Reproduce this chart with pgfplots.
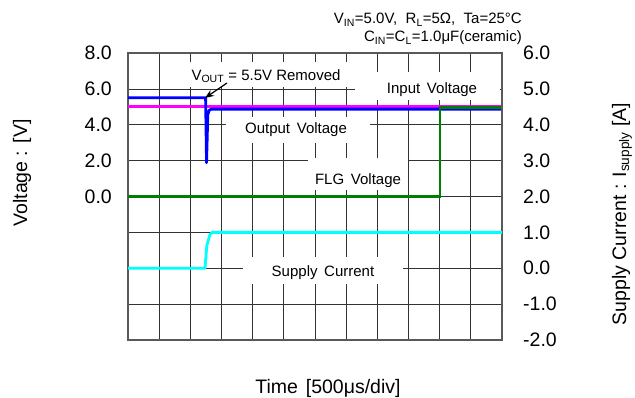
\documentclass[border=0pt]{standalone}
\usepackage{pgfplots}
\pgfplotsset{compat=1.18}
\usepackage{fontspec}
\setmainfont{Liberation Sans}
\usetikzlibrary{arrows.meta}
\definecolor{cCyan}{RGB}{0,255,255}
\definecolor{cMag}{RGB}{255,0,255}
\definecolor{cBlue}{RGB}{0,0,255}
\definecolor{cGreen}{RGB}{0,128,0}
\newcommand{\tickfont}{\fontsize{19.5bp}{22bp}\selectfont}
\newcommand{\annfont}{\fontsize{15bp}{17bp}\selectfont}
\begin{document}
\begin{tikzpicture}
\useasboundingbox (-128bp,-58bp) rectangle (507bp,340bp);
\begin{axis}[
  at={(0bp,0bp)}, anchor=south west, scale only axis,
  width=374bp, height=287bp,
  xmin=0, xmax=12, ymin=-8, ymax=8,
  xtick={0,1,...,12}, xticklabels={},
  ytick={-8,-6,...,8}, yticklabels={,,,,0.0,2.0,4.0,6.0,8.0},
  grid=major, major grid style={black!80, line width=0.7bp},
  major tick length=0pt,
  axis line style={black!65, line width=1.3bp},
  yticklabel style={font=\tickfont, inner sep=0pt, xshift=-16bp},
]
\addplot[cMag, line width=2.6bp] coordinates {(0,5.03) (12,5.03)};
\addplot[cBlue, line width=2.8bp, line join=round] coordinates {(0,5.5) (2.49,5.5) (2.52,1.88) (2.56,4.55) (2.60,4.80) (2.68,4.87) (12,4.87)};
\addplot[cGreen, line width=2.4bp] coordinates {(0,0) (10.01,0) (10.01,4.95) (12,4.95)};
\end{axis}
\begin{axis}[
  at={(0bp,0bp)}, anchor=south west, scale only axis,
  width=374bp, height=287bp,
  xmin=0, xmax=12, ymin=-2, ymax=6,
  axis y line*=right, axis x line=none,
  ytick={-2,-1,...,6}, yticklabels={-2.0,-1.0,0.0,1.0,2.0,3.0,4.0,5.0,6.0},
  major tick length=0pt,
  axis line style={black!65, line width=1.3bp},
  yticklabel style={font=\tickfont, inner sep=0pt, xshift=21bp},
]
\addplot[cCyan, line width=2.8bp, line join=round] coordinates {(0,0) (2.47,0) (2.53,0.64) (2.63,0.94) (2.70,1.0) (12,1.0)};
\end{axis}
% label boxes
\fill[white] (57bp,253bp) rectangle (222bp,278bp);
\fill[white] (227bp,240bp) rectangle (372bp,268bp);
\fill[white] (98bp,197bp) rectangle (242bp,223bp);
\fill[white] (180bp,150bp) rectangle (280bp,182bp);
\fill[white] (115bp,56bp) rectangle (275bp,83bp);
\node[font=\annfont, inner sep=0pt] at (138bp,264bp) {V\textsubscript{OUT} = 5.5V Removed};
\draw[black, line width=1.2bp, -{Stealth[length=9bp,width=7bp]}] (99bp,257bp) -- (77bp,242bp);
\node[font=\annfont, inner sep=0pt] at (304bp,250bp) {Input\, Voltage};
\node[font=\annfont, inner sep=0pt] at (168bp,210bp) {Output\, Voltage};
\node[font=\annfont, inner sep=0pt] at (230bp,159bp) {FLG\, Voltage};
\node[font=\annfont, inner sep=0pt] at (195bp,67bp) {Supply\, Current};
% title
\node[font=\annfont, inner sep=0pt, anchor=base east] at (394bp,316bp) {V\textsubscript{IN}=5.0V,\ \ R\textsubscript{L}=5Ω,\ \ Ta=25°C};
\node[font=\annfont, inner sep=0pt, anchor=base east] at (394bp,298bp) {C\textsubscript{IN}=C\textsubscript{L}=1.0μF(ceramic)};
% axis labels
\node[font=\tickfont, rotate=90, inner sep=0pt] at (-106bp,167bp) {Voltage : [V]};
\node[font=\tickfont, rotate=90, inner sep=0pt] at (494bp,126bp) {Supply Current : I\textsubscript{supply} [A]};
\node[font=\tickfont, inner sep=0pt] at (200bp,-48bp) {Time\hspace{0.4em}[500μs/div]};
\end{tikzpicture}
\end{document}
